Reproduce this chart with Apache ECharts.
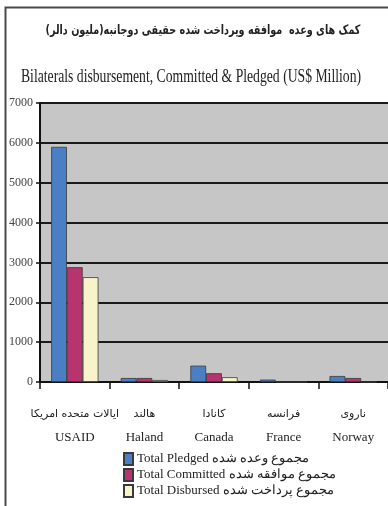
<!DOCTYPE html>
<html>
<head>
<meta charset="utf-8">
<script src="https://cdn.jsdelivr.net/npm/echarts@6/dist/echarts.min.js"></script>
<style>
  html, body { margin: 0; padding: 0; background: #fff; }
  #chart { width: 388px; height: 506px; }
</style>
</head>
<body>
<div id="chart"></div>
<script>
// donors, Persian name above English name
const donorsFa = ['ایالات متحده امریکا', 'هالند', 'کانادا', 'فرانسه', 'ناروی'];
const donorsEn = ['USAID', 'Haland', 'Canada', 'France', 'Norway'];

// US$ million
const pledged = [5900, 100, 410, 60, 150];
const committed = [2880, 100, 220, 0, 100];
const disbursed = [2630, 50, 120, 0, 0];

const seriesNames = [
  'Total Pledged مجموع وعده شده',
  'Total Committed مجموع موافقه شده',
  'Total Disbursed مجموع پرداخت شده',
];

const serif = '"Liberation Serif", "DejaVu Serif", serif';
const persian = '"DejaVu Sans", sans-serif';

const chart = echarts.init(document.getElementById('chart'));

const barStyle = (color) => ({ color, borderColor: '#3a3a3a', borderWidth: 0.8 });

chart.setOption({
  animation: false,
  backgroundColor: '#fff',
  graphic: [
    // outer frame of the figure
    {
      type: 'rect', left: 3, top: 5, z: 100,
      shape: { width: 420, height: 540 },
      style: { fill: 'none', stroke: '#4a4a4a', lineWidth: 2 },
    },
    {
      type: 'text', x: 203, y: 31, z: 100, scaleX: 0.74,
      style: {
        text: 'کمک های وعده  موافقه وپرداخت شده حقیقی دوجانبه(ملیون دالر)',
        font: 'bold 13px ' + persian, fill: '#222',
        align: 'center', verticalAlign: 'middle',
      },
    },
    {
      type: 'text', x: 191, y: 77, z: 100, scaleX: 0.72,
      style: {
        text: 'Bilaterals disbursement, Committed & Pledged (US$ Million)',
        font: '19px ' + serif, fill: '#222',
        align: 'center', verticalAlign: 'middle',
      },
    },
  ],
  legend: {
    orient: 'vertical',
    left: 123, top: 452, padding: 0,
    icon: 'rect',
    itemWidth: 9, itemHeight: 12, itemGap: 2,
    textStyle: { fontFamily: serif, fontSize: 13, lineHeight: 13, color: '#222', padding: [0, 0, 0, -1] },
    data: seriesNames,
  },
  grid: {
    show: true, backgroundColor: '#c6c6c6', borderWidth: 0,
    left: 40, top: 103, width: 355, height: 279,
  },
  xAxis: {
    type: 'category',
    data: donorsEn.map((en, i) => donorsFa[i] + '\n' + en),
    axisLine: { lineStyle: { color: '#111', width: 2 } },
    axisTick: { show: true, length: 7, lineStyle: { color: '#111', width: 1.5 } },
    axisLabel: {
      interval: 0, margin: 20,
      fontFamily: serif, fontSize: 13, color: '#222', lineHeight: 24,
      formatter: (v) => {
        const [fa, en] = v.split('\n');
        return '{fa|' + fa + '}\n{en|' + en + '}';
      },
      rich: {
        fa: { fontFamily: persian, fontSize: 11, color: '#222', lineHeight: 24 },
        en: { fontFamily: serif, fontSize: 13, color: '#222', lineHeight: 24 },
      },
    },
  },
  yAxis: {
    type: 'value',
    min: 0, max: 7000, interval: 1000,
    axisLine: { show: true, lineStyle: { color: '#111', width: 2 } },
    axisTick: { show: true, length: 4, lineStyle: { color: '#111', width: 1.5 } },
    axisLabel: { fontFamily: serif, fontSize: 12, color: '#444', margin: 7, formatter: (v) => String(v) },
    splitLine: { lineStyle: { color: '#1a1a1a', width: 2 } },
  },
  series: [
    { name: seriesNames[0], type: 'bar', data: pledged, barGap: '0%', barCategoryGap: '32%', itemStyle: barStyle('#4a7fc4') },
    { name: seriesNames[1], type: 'bar', data: committed, itemStyle: barStyle('#b8346f') },
    { name: seriesNames[2], type: 'bar', data: disbursed, itemStyle: barStyle('#f9f3cc') },
  ],
});
</script>
</body>
</html>
